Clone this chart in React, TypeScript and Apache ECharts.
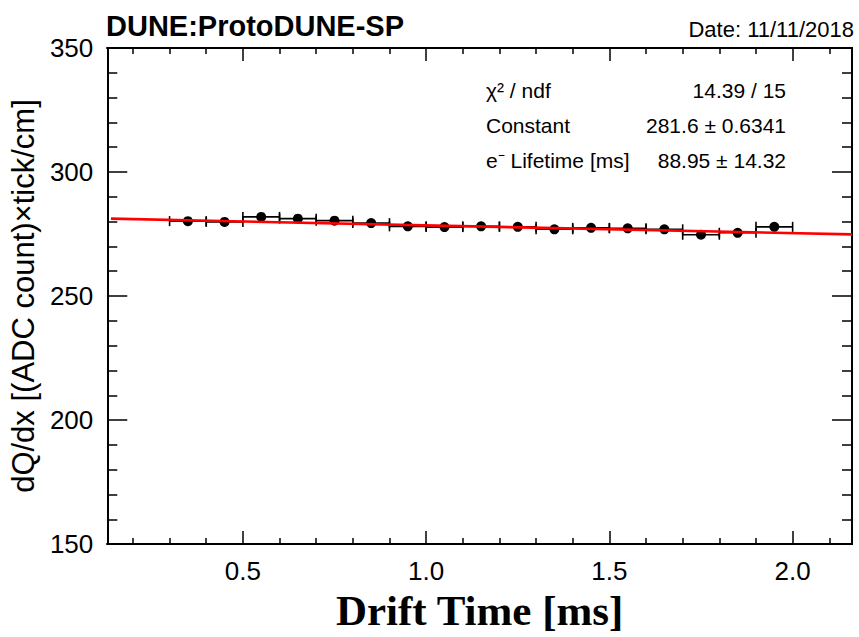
import React, { useEffect, useRef } from "react";
import * as echarts from "echarts";

// ---- data ----
const driftTime = [0.35, 0.45, 0.55, 0.65, 0.75, 0.85, 0.95, 1.05, 1.15, 1.25, 1.35, 1.45, 1.55, 1.65, 1.75, 1.85, 1.95];
const dqdx = [280.2, 279.9, 281.9, 281.2, 280.4, 279.4, 278.1, 277.8, 278.1, 277.9, 276.9, 277.5, 277.3, 276.9, 274.7, 275.5, 277.9];
const binLow = [0.3, 0.4, 0.5, 0.6, 0.7, 0.8, 0.9, 1.0, 1.1, 1.2, 1.3, 1.4, 1.5, 1.6, 1.7, 1.8, 1.9];
const binHigh = [0.4, 0.5, 0.6, 0.7, 0.8, 0.9, 1.0, 1.1, 1.2, 1.3, 1.4, 1.5, 1.6, 1.7, 1.8, 1.9, 2.0];

// fit curve end points (red line)
const fitTime = [0.14, 2.162];
const fitDqdx = [281.2, 274.85];

// axes
const xRange = [0.13, 2.162];
const yRange = [150, 350];
const xMajorTicks = [0.5, 1.0, 1.5, 2.0];
const xMinorTicks = [0.2, 0.3, 0.4, 0.6, 0.7, 0.8, 0.9, 1.1, 1.2, 1.3, 1.4, 1.6, 1.7, 1.8, 1.9, 2.1];

// texts
const titleText = "DUNE:ProtoDUNE-SP";
const dateText = "Date: 11/11/2018";
const xTitle = "Drift Time [ms]";
const yTitle = "dQ/dx [(ADC count)\u00d7tick/cm]";
const statsLabels = ["\u03c7\u00b2 / ndf", "Constant", "e\u207b Lifetime [ms]"];
const statsValues = ["14.39 / 15", "281.6 \u00b1 0.6341", "88.95 \u00b1 14.32"];

const SANS = "'Liberation Sans', Arial, Helvetica, sans-serif";
const SERIF = "'Liberation Serif', 'Times New Roman', serif";

export default function App() {
  const ref = useRef<HTMLDivElement>(null);

  useEffect(() => {
    if (!ref.current) return;
    const chart = echarts.init(ref.current, undefined, { renderer: "svg" });

    const black = "#000";
    const xAxisBase = (position: string, ticks: number[], length: number) => ({
      type: "value",
      position,
      min: xRange[0],
      max: xRange[1],
      axisLine: { show: true, onZero: false, lineStyle: { color: black, width: 2 } },
      axisTick: { show: true, inside: true, length, customValues: ticks, lineStyle: { color: black, width: 1.5 } },
      axisLabel: { show: false },
      splitLine: { show: false },
    });

    const xAxes: any[] = [
      {
        ...xAxisBase("bottom", xMajorTicks, 13),
        axisLabel: {
          show: true,
          customValues: xMajorTicks,
          formatter: (v: number) => v.toFixed(1),
          fontSize: 26,
          fontFamily: SANS,
          color: black,
          margin: 14,
        },
        name: xTitle,
        nameLocation: "middle",
        nameGap: 44,
        nameTextStyle: { fontSize: 43, fontFamily: SERIF, fontWeight: "bold", color: black },
      },
      xAxisBase("bottom", xMinorTicks, 6),
      xAxisBase("top", xMajorTicks, 13),
      xAxisBase("top", xMinorTicks, 6),
    ];

    const yAxisBase = (position: string) => ({
      type: "value",
      position,
      min: yRange[0],
      max: yRange[1],
      interval: 50,
      axisLine: { show: true, onZero: false, lineStyle: { color: black, width: 2 } },
      axisTick: { show: true, inside: true, length: 20, lineStyle: { color: black, width: 1.5 } },
      minorTick: { show: true, splitNumber: 5, length: 10, lineStyle: { color: black, width: 1.5 } },
      axisLabel: { show: false },
      splitLine: { show: false },
      minorSplitLine: { show: false },
    });

    const yAxes: any[] = [
      {
        ...yAxisBase("left"),
        axisLabel: { show: true, fontSize: 26, fontFamily: SANS, color: black, margin: 14 },
        name: yTitle,
        nameLocation: "middle",
        nameGap: 65,
        nameTextStyle: { fontSize: 31, fontFamily: SANS, color: black },
      },
      yAxisBase("right"),
    ];

    const errData = driftTime.map((t, i) => [t, dqdx[i], binLow[i], binHigh[i]]);
    const capHalf = 5;

    const graphics: any[] = [
      {
        type: "text",
        x: 106,
        y: 26,
        style: { text: titleText, fontSize: 29, fontWeight: "bold", fontFamily: SANS, fill: black, align: "left", verticalAlign: "middle" },
      },
      {
        type: "text",
        x: 854,
        y: 29.5,
        style: { text: dateText, fontSize: 22, fontFamily: SANS, fill: black, align: "right", verticalAlign: "middle" },
      },
    ];
    const rowY = [90.5, 125.5, 160.5];
    statsLabels.forEach((s, i) => {
      graphics.push({
        type: "text",
        x: 486,
        y: rowY[i],
        style: { text: s, fontSize: 21, fontFamily: SANS, fill: black, align: "left", verticalAlign: "middle" },
      });
      graphics.push({
        type: "text",
        x: 786,
        y: rowY[i],
        style: { text: statsValues[i], fontSize: 21, fontFamily: SANS, fill: black, align: "right", verticalAlign: "middle" },
      });
    });

    chart.setOption({
      animation: false,
      backgroundColor: "#fff",
      grid: { left: 105, top: 48, width: 747, height: 506, containLabel: false },
      xAxis: xAxes,
      yAxis: yAxes,
      graphic: graphics,
      series: [
        {
          type: "custom",
          xAxisIndex: 0,
          yAxisIndex: 0,
          data: errData,
          z: 2,
          renderItem: (params: any, api: any) => {
            const y = api.value(1);
            const p0 = api.coord([api.value(2), y]);
            const p1 = api.coord([api.value(3), y]);
            const st = { stroke: black, lineWidth: 1.6 };
            return {
              type: "group",
              children: [
                { type: "line", shape: { x1: p0[0], y1: p0[1], x2: p1[0], y2: p1[1] }, style: st },
                { type: "line", shape: { x1: p0[0], y1: p0[1] - capHalf, x2: p0[0], y2: p0[1] + capHalf }, style: st },
                { type: "line", shape: { x1: p1[0], y1: p1[1] - capHalf, x2: p1[0], y2: p1[1] + capHalf }, style: st },
              ],
            };
          },
        },
        {
          type: "scatter",
          xAxisIndex: 0,
          yAxisIndex: 0,
          data: driftTime.map((t, i) => [t, dqdx[i]]),
          symbol: "circle",
          symbolSize: 10,
          itemStyle: { color: black, opacity: 1 },
          z: 3,
        },
        {
          type: "line",
          xAxisIndex: 0,
          yAxisIndex: 0,
          data: fitTime.map((t, i) => [t, fitDqdx[i]]),
          showSymbol: false,
          symbol: "none",
          lineStyle: { color: "#ff0000", width: 2.6 },
          z: 4,
        },
      ],
    });

    return () => chart.dispose();
  }, []);

  return <div ref={ref} style={{ position: "fixed", left: 0, top: 0, width: 859, height: 637, background: "#fff" }} />;
}
